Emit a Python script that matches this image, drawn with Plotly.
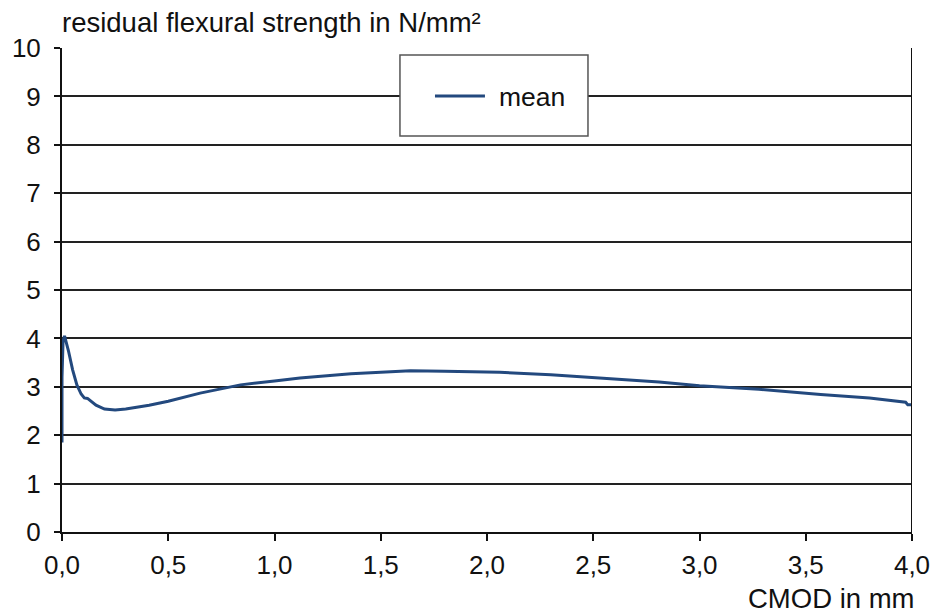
import plotly.graph_objects as go

cmod = [0.0, 0.0, 0.005, 0.012, 0.03, 0.05, 0.07, 0.09, 0.105, 0.12, 0.16, 0.2, 0.25, 0.3, 0.41, 0.5, 0.65, 0.84, 1.0, 1.12, 1.36, 1.64, 1.8, 2.06, 2.3, 2.53, 2.81, 3.0, 3.28, 3.57, 3.8, 3.97, 3.98, 4.0]
strength = [1.85, 3.2, 3.95, 4.05, 3.75, 3.35, 3.04, 2.85, 2.77, 2.76, 2.62, 2.54, 2.52, 2.54, 2.62, 2.7, 2.87, 3.04, 3.12, 3.18, 3.27, 3.33, 3.32, 3.30, 3.25, 3.18, 3.10, 3.02, 2.95, 2.84, 2.77, 2.68, 2.63, 2.63]

x_ticks = [0, 0.5, 1.0, 1.5, 2.0, 2.5, 3.0, 3.5, 4.0]
x_labels = ["0,0", "0,5", "1,0", "1,5", "2,0", "2,5", "3,0", "3,5", "4,0"]
y_ticks = list(range(0, 11))
series_name = "mean"

LINE_COLOR = "#23497e"
FONT = "Liberation Sans, Arial, sans-serif"

fig = go.Figure()
fig.add_trace(go.Scatter(x=cmod, y=strength, mode="lines", name=series_name,
                         line=dict(color=LINE_COLOR, width=3), showlegend=False))

fig.update_layout(
    width=934, height=614,
    margin=dict(l=62, r=22, t=48, b=82, autoexpand=False),
    plot_bgcolor="white", paper_bgcolor="white",
    font=dict(family=FONT, size=26, color="#111"),
    showlegend=False,
    xaxis=dict(range=[0, 4], tickvals=x_ticks, ticktext=x_labels,
               showgrid=False, zeroline=False, showline=True, linecolor="#111", linewidth=2,
               ticks="outside", ticklen=7, tickwidth=2, tickcolor="#111",
               tickfont=dict(size=26), ticklabelstandoff=2),
    yaxis=dict(range=[0, 10], tickvals=y_ticks,
               showgrid=True, gridcolor="#222", gridwidth=2, zeroline=False,
               showline=True, linecolor="#111", linewidth=2,
               ticks="outside", ticklen=6, tickwidth=2, tickcolor="#111",
               tickfont=dict(size=26), ticklabelstandoff=8),
    annotations=[
        dict(text="residual flexural strength in N/mm²", xref="paper", yref="paper",
             x=0.0, y=1.0, xanchor="left", yanchor="middle", yshift=26, xshift=-2,
             showarrow=False, font=dict(size=27.5)),
        dict(text="CMOD in mm", xref="paper", yref="paper",
             x=1.0, y=0.0, xanchor="right", yanchor="middle", yshift=-66, xshift=5,
             showarrow=False, font=dict(size=27.5)),
        dict(text=series_name, xref="paper", yref="paper",
             x=0.5118, y=0.8988, xanchor="left", yanchor="middle", showarrow=False,
             font=dict(size=26.5)),
    ],
    shapes=[
        dict(type="line", xref="x", yref="paper", x0=4, x1=4, y0=0, y1=1,
             line=dict(color="#111", width=2)),
        dict(type="rect", xref="paper", yref="paper", x0=0.3976, x1=0.6188, y0=0.818, y1=0.9855,
             fillcolor="white", line=dict(color="#555", width=1.5), layer="above"),
        dict(type="line", xref="paper", yref="paper", x0=0.4388, x1=0.4976, y0=0.9008, y1=0.9008,
             line=dict(color=LINE_COLOR, width=3), layer="above"),
    ],
)

fig.write_html("out.html")
